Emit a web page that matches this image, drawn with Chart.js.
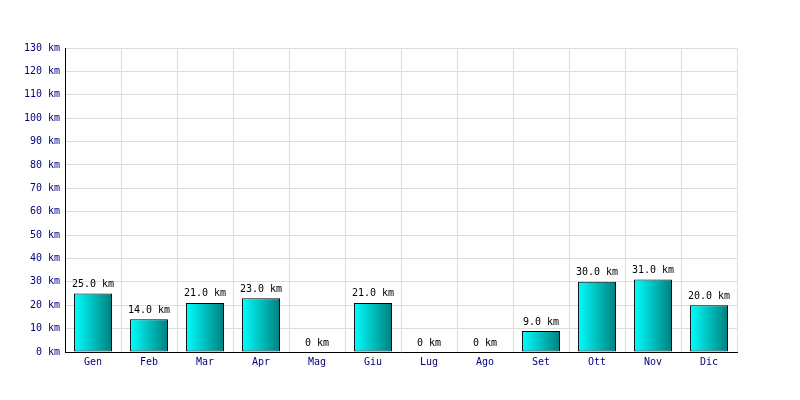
<!DOCTYPE html>
<html>
<head>
<meta charset="utf-8">
<script src="https://cdn.jsdelivr.net/npm/chart.js@4/dist/chart.umd.min.js"></script>
<style>
  html, body { margin: 0; padding: 0; background: #fff; }
  #wrap { width: 800px; height: 400px; }
</style>
</head>
<body>
<div id="wrap"><canvas id="kmChart" width="800" height="400"></canvas></div>
<script>
// mesi e km percorsi
var mesi = ["Gen", "Feb", "Mar", "Apr", "Mag", "Giu", "Lug", "Ago", "Set", "Ott", "Nov", "Dic"];
var km = [25, 14, 21, 23, 0, 21, 0, 0, 9, 30, 31, 20];
var yMax = 130;
var yStep = 10;

var FONT = "'DejaVu Sans Mono', monospace";
var BAR_PCT = 0.68;

function barGradient(ctx) {
  var chart = ctx.chart;
  var xs = chart.scales.x;
  if (!xs || !chart.chartArea || ctx.dataIndex === undefined) return "#00cccc";
  var cx = xs.getPixelForValue(ctx.dataIndex);
  var w = (chart.chartArea.width / mesi.length) * BAR_PCT;
  var g = chart.ctx.createLinearGradient(cx - w / 2, 0, cx + w / 2, 0);
  g.addColorStop(0, "#00ffff");
  g.addColorStop(1, "#008080");
  return g;
}

// etichette sopra le barre
var valueLabels = {
  id: "valueLabels",
  afterDatasetsDraw: function (chart) {
    var c = chart.ctx;
    var meta = chart.getDatasetMeta(0);
    c.save();
    c.font = "10px " + FONT;
    c.fillStyle = "#000";
    c.textAlign = "center";
    c.textBaseline = "bottom";
    meta.data.forEach(function (bar, i) {
      var v = km[i];
      var txt = v === 0 ? "0 km" : v.toFixed(1) + " km";
      c.fillText(txt, bar.x, bar.y - 4);
    });
    c.restore();
  }
};

new Chart(document.getElementById("kmChart").getContext("2d"), {
  type: "bar",
  data: {
    labels: mesi,
    datasets: [{
      data: km,
      backgroundColor: barGradient,
      borderColor: "#000",
      borderWidth: 1,
      borderSkipped: false,
      barPercentage: BAR_PCT,
      categoryPercentage: 1
    }]
  },
  options: {
    responsive: false,
    animation: false,
    layout: { padding: { top: 48, right: 63, bottom: 0, left: 0 } },
    plugins: {
      legend: { display: false },
      tooltip: { enabled: false }
    },
    scales: {
      x: {
        offset: true,
        grid: { color: "#dddddd", offset: true, drawTicks: false },
        border: { color: "#000", width: 1 },
        ticks: { color: "#000080", font: { family: FONT, size: 10 }, padding: 4, maxRotation: 0 },
        afterFit: function (s) { s.height = 48; }
      },
      y: {
        min: 0,
        max: yMax,
        grid: { color: "#dddddd", drawTicks: false },
        border: { color: "#000", width: 1 },
        ticks: {
          stepSize: yStep,
          color: "#000080",
          font: { family: FONT, size: 10 },
          padding: 5,
          callback: function (v) { return v + " km"; }
        },
        afterFit: function (s) { s.width = 65; }
      }
    }
  },
  plugins: [valueLabels]
});
</script>
</body>
</html>
